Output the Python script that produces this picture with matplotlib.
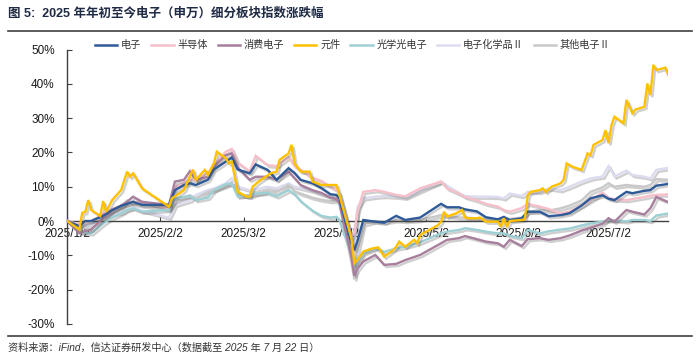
import matplotlib
matplotlib.use("Agg")
import matplotlib.pyplot as plt
import matplotlib.patheffects as pe
from matplotlib.lines import Line2D
import pandas as pd

plt.rcParams['font.family'] = ['Liberation Sans', 'Noto Sans CJK SC', 'DejaVu Sans']

# ---------------- data ----------------
dates = ["01-02","01-06","01-08","01-10","01-14","01-17","01-20","01-22","01-24","01-27",
         "02-05","02-07","02-10","02-12","02-14","02-18","02-20","02-24","02-26","02-28",
         "03-04","03-06","03-10","03-13","03-17","03-19","03-21","03-25","03-28","03-31",
         "04-02","04-03","04-07","04-08","04-09","04-11","04-15","04-18","04-22","04-25","04-30",
         "05-07","05-09","05-13","05-15","05-19","05-22","05-26","05-28","05-30",
         "06-03","06-05","06-09","06-12","06-16","06-19","06-23","06-26","06-30",
         "07-02","07-04","07-08","07-10","07-14","07-16","07-18","07-22"]

dianzi = [0, -1.5, 0, 0, 1.5, 3.2, 4.4, 5, 5.6, 4.7,
          4.7, 9, 10.5, 11, 10.5, 12, 15, 17.3, 18.5, 15,
          13.9, 16.5, 14.9, 12, 15.4, 14, 12, 11, 9.6, 7.8,
          7.6, 6.5, -6.5, -8.5, -6, 0.3, -0.2, -0.5, 1.5, 0.3, 1,
          5, 4, 4, 3.4, 2.8, 1.1, 0.5, 1.2, 0.3,
          0.8, 2.7, 2.7, 1.4, 1.7, 2.3, 4.5, 6.6, 7.5,
          6.5, 6.1, 8.5, 8.1, 8.8, 9, 10.3, 10.8]

bandaoti = [0, -1, -0.5, 0, 2, 3.5, 4.5, 5, 5.5, 5.6,
            3.7, 10, 11, 12, 12, 13.9, 16.3, 20.2, 21, 17,
            14.5, 19, 16.3, 16, 18.7, 16, 14.9, 12.6, 11.7, 10,
            9, 8, -5, -3, 2.7, 8.5, 9, 8.5, 7.6, 7.2, 9.5,
            11.5, 9.5, 8, 7, 6, 5, 4.2, 3.2, 2.7,
            3.8, 5, 4.2, 3.5, 2.2, 2.8, 4.5, 6, 8.3,
            6.8, 6.3, 6.1, 6.4, 7, 7.4, 7.6, 7.8]

xiaofei = [0, -3.5, -3, -2.5, 0.8, 3, 4.5, 5.6, 7.1, 5.6,
           4.7, 11.5, 12, 14.5, 12, 12.9, 15.8, 19.2, 19.7, 15.5,
           12, 12.9, 12.9, 12, 14.4, 12.5, 10.5, 9, 8.2, 6.8,
           6.4, 5.2, -10.5, -16, -14, -11.8, -9.9, -12.8, -12.5, -11.4, -9.9,
           -6.5, -5.5, -5, -4.4, -5.3, -6, -6.5, -7.5, -5.5,
           -7.3, -5.3, -5, -5.5, -5, -4.2, -2.8, -2, -0.8,
           0.8, -0.2, 3.2, 2.7, 1.9, 3.7, 7, 5.5]

guangxue = [0, -3, -3.5, -3.6, -0.7, 1, 2.2, 3.2, 3.7, 2.7,
            3.2, 6.6, 7, 7.3, 6.1, 6.8, 9, 10.7, 11, 7.1,
            7.6, 8, 8.2, 7.2, 9, 7.8, 5.8, 3, 1.5, 1,
            1.2, 0.3, -10, -12.8, -12.3, -9.4, -8, -9, -8, -7.5, -6.2,
            -3.6, -3.1, -2.6, -2.1, -2.6, -3.1, -3.6, -3.6, -4.3,
            -5, -2.6, -3.6, -3, -2.5, -2.2, -1.3, -0.7, -0.2,
            0.2, 0.2, -0.1, 0.3, 0.3, 0, 1.6, 2.2]

huaxue = [0, -1.5, -1, -1, 0.5, 2, 2.5, 3.5, 4, 3,
          1, 4.7, 5.5, 6, 7.6, 9, 9.5, 11, 12.5, 10,
          9, 9.2, 10, 9.5, 11, 10, 9.6, 8.8, 7.8, 7.3,
          7, 6, -6, -8, 4, 6.6, 7.1, 7.3, 7.1, 6.8, 8.8,
          11.5, 10.3, 8.2, 7.3, 7.1, 7.1, 7, 6.6, 8,
          7.3, 8.5, 8.5, 9.5, 9, 10, 11.5, 12.4, 13,
          16, 13, 14.7, 13.4, 12.9, 12.4, 14.9, 15.5]

qita = [0, -2.5, -2, -2.5, 1, 3, 4, 6, 5, 4.5,
        3.4, 6, 7, 7.5, 6.6, 8.5, 9, 10.3, 11, 7.5,
        7.2, 7.8, 8.7, 8.5, 10.5, 8.7, 8, 6.8, 6.2, 5.8,
        5.9, 5, -12, -17, -9, -1, 0, -0.3, 0.2, 0, 0.3,
        1.7, 1.5, 1, 1, 0.8, 0.6, 0.5, 0.5, 0.6,
        1, 2.7, 3.2, 3, 3.7, 4.5, 6, 8.5, 9.8,
        11, 10, 10.5, 10.3, 10, 10.5, 12.2, 12]

yj_dates = ["01-02","01-06","01-07","01-08","01-09","01-10","01-13","01-14","01-15","01-17","01-20","01-22","01-23","01-24","01-27",
            "02-05","02-06","02-10","02-11","02-13","02-14","02-17","02-18","02-20","02-21","02-24","02-25","02-26","02-28",
            "03-03","03-04","03-05","03-07","03-11","03-13","03-14","03-17","03-18","03-19","03-21","03-24","03-25","03-28","03-31",
            "04-02","04-03","04-07","04-08","04-09","04-11","04-14","04-16","04-18","04-21","04-22","04-23","04-25","04-28","04-29","04-30",
            "05-06","05-07","05-08","05-09","05-12","05-14","05-15","05-16","05-19","05-20","05-22","05-26","05-27","05-28","05-29","05-30",
            "06-03","06-04","06-05","06-06","06-09","06-10","06-11","06-13","06-16","06-17","06-18","06-20","06-23","06-24","06-25","06-26","06-27","06-30",
            "07-01","07-02","07-03","07-04","07-07","07-08","07-10","07-11","07-14","07-15","07-16","07-17","07-18","07-21","07-22"]

yuanjian = [0, -2.5, 2.4, 2.6, 6.1, 3.2, 1.5, 5.8, 2.7, 6.1, 9, 14.4, 12.9, 13.9, 9.5,
            4.2, 6.6, 9, 11, 15, 12, 14.9, 13.4, 16.8, 20.2, 18.3, 16.8, 17.3, 8.5,
            7.1, 7.1, 10, 11.5, 13.9, 14.4, 17.8, 19.7, 22.2, 16.8, 14.4, 14.4, 11.5, 10.5, 10.5,
            10.5, 7.6, -5, -12.3, -11.4, -8.9, -8, -7.7, -10.4, -8.5, -7.5, -6, -7.5, -5.5, -6.5, -4.1,
            -1.2, -0.2, 2.7, 1.3, 2.2, 3.2, 1.1, 0.8, 0.8, 1, -0.2, -0.2, -1.7, 0.8, -1.7, 0,
            0.3, 0.5, 7.6, 8.5, 9, 9.5, 8.5, 10, 11, 12, 16.8, 15.8, 14.9, 17.3, 19.7, 19.2, 22.2, 23.6,
            26.5, 22.7, 28, 30.4, 28.5, 35.3, 31.4, 32.5, 33.3, 40.1, 36.7, 45.5, 44, 44.7, 42.6]

series_names = ["电子", "半导体", "消费电子", "元件", "光学光电子", "电子化学品Ⅱ", "其他电子Ⅱ"]
colors = ["#2F5A98", "#F6BFC9", "#A77F9C", "#FFC000", "#9DD0D5", "#DCDCF0", "#C8C8C8"]

xtick_labels = ["2025/1/2", "2025/2/2", "2025/3/2", "2025/4/2", "2025/5/2", "2025/6/2", "2025/7/2"]
yticks = [-30, -20, -10, 0, 10, 20, 30, 40, 50]

title = "图 5:  2025 年年初至今电子（申万）细分板块指数涨跌幅"
source = "资料来源：iFind，信达证券研发中心（数据截至 2025 年 7 月 22 日）"

# ---------------- plot ----------------
to_dt = lambda lst: pd.to_datetime(["2025-" + s for s in lst])
x = to_dt(dates)
xy = to_dt(yj_dates)

fig = plt.figure(figsize=(7.0, 3.61), dpi=100)
ax = fig.add_axes([67.3 / 700, 1 - 323.9 / 361, (668.3 - 67.3) / 700, (323.9 - 49.5) / 361])

shadow = [pe.SimpleLineShadow(offset=(1.5, -1.5), shadow_color='#555555', alpha=0.28), pe.Normal()]

data = {"电子": (x, dianzi), "半导体": (x, bandaoti), "消费电子": (x, xiaofei),
        "元件": (xy, yuanjian), "光学光电子": (x, guangxue),
        "电子化学品Ⅱ": (x, huaxue), "其他电子Ⅱ": (x, qita)}
zorders = {"电子": 6, "半导体": 3, "消费电子": 5, "元件": 7, "光学光电子": 4,
           "电子化学品Ⅱ": 2, "其他电子Ⅱ": 2.5}

for name, c in zip(series_names, colors):
    xx, yy = data[name]
    ax.plot(xx, yy, color=c, lw=1.7, zorder=zorders[name], path_effects=shadow,
            solid_joinstyle='miter')

ax.set_xlim(pd.Timestamp("2025-01-02"), pd.Timestamp("2025-07-22"))
ax.set_ylim(-30, 50)

ax.spines['top'].set_visible(False)
ax.spines['right'].set_visible(False)
ax.spines['bottom'].set_position(('data', 0))
for s in ('left', 'bottom'):
    ax.spines[s].set_color('#404040')
    ax.spines[s].set_linewidth(1.0)

ax.set_yticks(yticks)
ax.set_yticklabels([f"{v}%" for v in yticks])
xt = pd.to_datetime(["2025-01-02", "2025-02-02", "2025-03-02", "2025-04-02",
                     "2025-05-02", "2025-06-02", "2025-07-02"])
ax.set_xticks(xt)
ax.set_xticklabels(xtick_labels)
ax.tick_params(axis='y', direction='in', length=3.5, width=0.8, color='#404040',
               labelsize=8.5, pad=9, labelcolor='#1a1a1a')
ax.tick_params(axis='x', direction='in', length=3, width=0.8, color='#404040',
               labelsize=8.5, pad=5, labelcolor='#1a1a1a')
for lab in ax.get_xticklabels():
    lab.set_zorder(10)

handles = [Line2D([0], [0], color=c, lw=1.8) for c in colors]
fig.legend(handles, series_names, loc='center left',
           bbox_to_anchor=(90 / 700, 1 - 45 / 361), ncol=7, frameon=False,
           prop={'family': ['Noto Sans CJK SC', 'DejaVu Sans'], 'size': 7.3},
           handlelength=2.2, handletextpad=0.35, columnspacing=1.0, borderpad=0,
           labelcolor='#333333')

fig.text(8 / 700, 1 - 14 / 361, title, fontsize=9, fontweight='bold', color='#1F2A44',
         va='center', ha='left')
fig.add_artist(Line2D([8 / 700, 692 / 700], [1 - 31 / 361, 1 - 31 / 361],
                      color='#404040', lw=1.2))
fig.add_artist(Line2D([8 / 700, 692 / 700], [1 - 336 / 361, 1 - 336 / 361],
                      color='#404040', lw=1.2))
fig.text(8 / 700, 1 - 348 / 361, source, fontsize=7.3, color='#333333',
         va='center', ha='left', style='italic')

fig.savefig("out.png", dpi=100)
